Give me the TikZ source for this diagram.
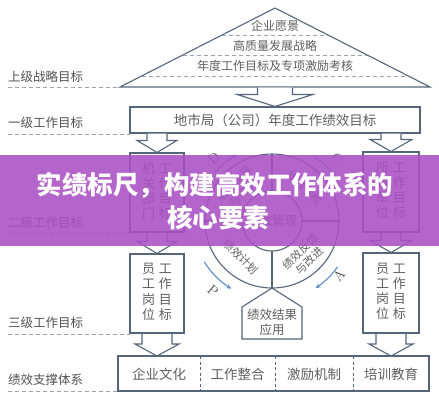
\documentclass[tikz,border=0pt]{standalone}
\usepackage{fontspec}
\newfontfamily\cjk{Noto Sans CJK SC}
\usetikzlibrary{arrows.meta,calc}
\definecolor{ln}{HTML}{56667A}
\definecolor{tx}{HTML}{606060}
\definecolor{dl}{HTML}{9CA4AD}
\definecolor{ar}{HTML}{5E8DC6}
\definecolor{bn}{RGB}{170,80,196}
\tikzset{
 ol/.style={draw=ln, line width=1.1pt},
 box/.style={ol, fill=white, inner sep=0pt, text=tx},
 blk/.style={ol, fill=white, line join=miter},
 guide/.style={draw=dl, line width=0.9pt, dash pattern=on 4pt off 3pt},
 divl/.style={draw=ln, line width=0.9pt, dash pattern=on 3pt off 2.5pt},
 lbl/.style={anchor=west, text=tx!85!black, font=\cjk\fontsize{12.5}{14}\selectfont, inner sep=0pt},
 tritxt/.style={text=tx, font=\cjk\fontsize{12}{14}\selectfont, inner sep=0pt},
 colbox/.style={box, font=\cjk\fontsize{13}{14}\selectfont},
 celltxt/.style={text=tx, font=\cjk\fontsize{13.5}{15}\selectfont, inner sep=0pt},
 ring/.style={text=tx, font=\cjk\fontsize{11}{12.5}\selectfont, align=center, inner sep=0pt},
 pdca/.style={draw=ar, line width=1.1pt},
 letter/.style={text=tx!80!black, font=\rmfamily\fontsize{14}{14}\selectfont, inner sep=0pt},
 banner/.style={text=white, font=\cjk\bfseries\fontsize{25.5}{27}\selectfont, inner sep=0pt},
}
\newcommand\blkarrow[4]{\draw[blk] let \p1=(#1), \p2=(#2) in
  (\x1-#3,\y1-0.55pt) -- (\x1-#3,\y2+12pt) -- (\x1-#4,\y2+12pt) -- (\x1,\y2)
  -- (\x1+#4,\y2+12pt) -- (\x1+#3,\y2+12pt) -- (\x1+#3,\y1-0.55pt);}
\newcommand\colt[8]{\begin{tabular}{@{}c@{\hspace{4pt}}c@{}}#1&#5\\#2&#6\\#3&#7\\#4&#8\end{tabular}}

\begin{document}
\begin{tikzpicture}[x=1pt,y=-1pt]
\fill[white] (0,0) rectangle (439,400);
\useasboundingbox (0,0) rectangle (439,400);

% left level labels
\node[lbl] (l1) at (8,77) {上级战略目标};
\node[lbl] (l2) at (8,123) {一级工作目标};
\node[lbl] (l3) at (8,223) {二级工作目标};
\node[lbl] (l4) at (8,323) {三级工作目标};
\node[lbl] (l5) at (8,380) {绩效支撑体系};
\draw[guide] (8,87) -- (118,87);
\draw[guide] (8,134) -- (130,134);
\draw[guide] (8,233) -- (130,233);
\draw[guide] (8,334) -- (130,334);
\draw[guide] (8,391) -- (118,391);

% triangle
\coordinate (apex) at (275,8);
\coordinate (tl) at (120,87);
\coordinate (tr) at (430,87);
\coordinate (tbase) at (275,87);
\draw[ol, line join=miter] (tl) -- (apex) -- (tr) -- cycle;
\draw[guide] (222,35) -- (328,35);
\draw[guide] (183,55) -- (367,55);
\draw[guide] (142,76) -- (408,76);
\node[tritxt] (v1) at (275,26) {企业愿景};
\node[tritxt] (v2) at (275,46) {高质量发展战略};
\node[tritxt] (v3) at (275,66) {年度工作目标及专项激励考核};

% goal box
\node[box, minimum width=290pt, minimum height=26pt, font=\cjk\fontsize{13.5}{15}\selectfont] (goal) at (275,120) {地市局（公司）年度工作绩效目标};
\blkarrow{tbase}{goal.north}{17.5pt}{38pt}

% columns
\node[colbox, minimum width=54pt, minimum height=79pt] (dept) at (157,192.5) {\colt{机}{关}{部}{门}{工}{作}{目}{标}};
\node[colbox, minimum width=56pt, minimum height=80pt] (unit) at (391,192) {\colt{所}{属}{单}{位}{工}{作}{目}{标}};
\node[colbox, minimum width=54pt, minimum height=79pt] (staffl) at (157,293.5) {\colt{员}{工}{岗}{位}{工}{作}{目}{标}};
\node[colbox, minimum width=56pt, minimum height=80pt] (staffr) at (391,293) {\colt{员}{工}{岗}{位}{工}{作}{目}{标}};

% support box
\node[box, minimum width=311pt, minimum height=35pt] (support) at (273.5,373.5) {};
\draw[divl] (200,356) -- (200,391);
\draw[divl] (275,356) -- (275,391);
\draw[divl] (353,356) -- (353,391);
\node[celltxt] (s1) at (159,374) {企业文化};
\node[celltxt] (s2) at (237.5,374) {工作整合};
\node[celltxt] (s3) at (314,374) {激励机制};
\node[celltxt] (s4) at (391,374) {培训教育};

% block arrows
\coordinate (gl) at (157,133);
\coordinate (gr) at (391,133);
\blkarrow{gl}{dept.north}{10pt}{20pt}
\blkarrow{gr}{unit.north}{10pt}{21pt}
\blkarrow{dept.south}{staffl.north}{10pt}{20pt}
\blkarrow{unit.south}{staffr.north}{10pt}{21pt}
\coordinate (sl) at (157,356);
\coordinate (sr) at (391,356);
\blkarrow{staffl.south}{sl}{15pt}{22pt}
\blkarrow{staffr.south}{sr}{15pt}{22pt}

% PDCA circle
\coordinate (ctr) at (272,221);
\draw[ol] (ctr) circle[radius=67pt];
\draw[ol] (ctr) circle[radius=30pt];
\draw[ol] (272,154) -- (272,191);
\draw[ol] (272,251) -- (272,288);
\draw[ol] (205,221) -- (242,221);
\draw[ol] (302,221) -- (339,221);
\node[ring, font=\cjk\fontsize{12.5}{14}\selectfont] (core) at (ctr) {绩效管理};
\node[ring, rotate=45] (q1) at (239,188) {绩效辅导\\与沟通};
\node[ring, rotate=-45] (q2) at (305,188) {绩效考核};
\node[ring, rotate=-45] (q3) at (241,257) {绩效计划};
\node[ring, rotate=45] (q4) at (305,256) {绩效反馈\\与改进};

\draw[pdca, -{Stealth[length=5pt,width=4.5pt]}] plot[domain=211:239, samples=20] ({272+79*cos(\x)},{221-79*sin(\x)});
\draw[pdca, {Stealth[length=5pt,width=4.5pt]}-] plot[domain=303:325, samples=20] ({272+80*cos(\x)},{221-80*sin(\x)});
\draw[pdca, {Stealth[length=5pt,width=4.5pt]}-] plot[domain=118:140, samples=20] ({272+75*cos(\x)},{221-75*sin(\x)});
\draw[pdca, {Stealth[length=5pt,width=4.5pt]}-] plot[domain=32:58, samples=20] ({272+77*cos(\x)},{221-77*sin(\x)});
\node[letter, rotate=-40] (P) at (213,291) {P};
\node[letter, rotate=49] (A) at (339,275) {A};
\node[letter, rotate=42] (D) at (214,158) {D};
\node[letter, rotate=-45] (C) at (337,159) {C};

% result
\draw[ol, fill=white, line join=miter] (272,288) -- (302,307) -- (302,339) -- (242,339) -- (242,307) -- cycle;
\node[text=tx, font=\cjk\fontsize{12.5}{15}\selectfont, align=center, inner sep=0pt] (result) at (272,322.5) {绩效结果\\应用};

% banner overlay
\fill[bn, opacity=0.88] (0,155) rectangle (439,246);
\node[banner] (t1) at (215,185) {实绩标尺，构建高效工作体系的};
\node[banner] (t2) at (218,218) {核心要素};
\end{tikzpicture}
\end{document}
